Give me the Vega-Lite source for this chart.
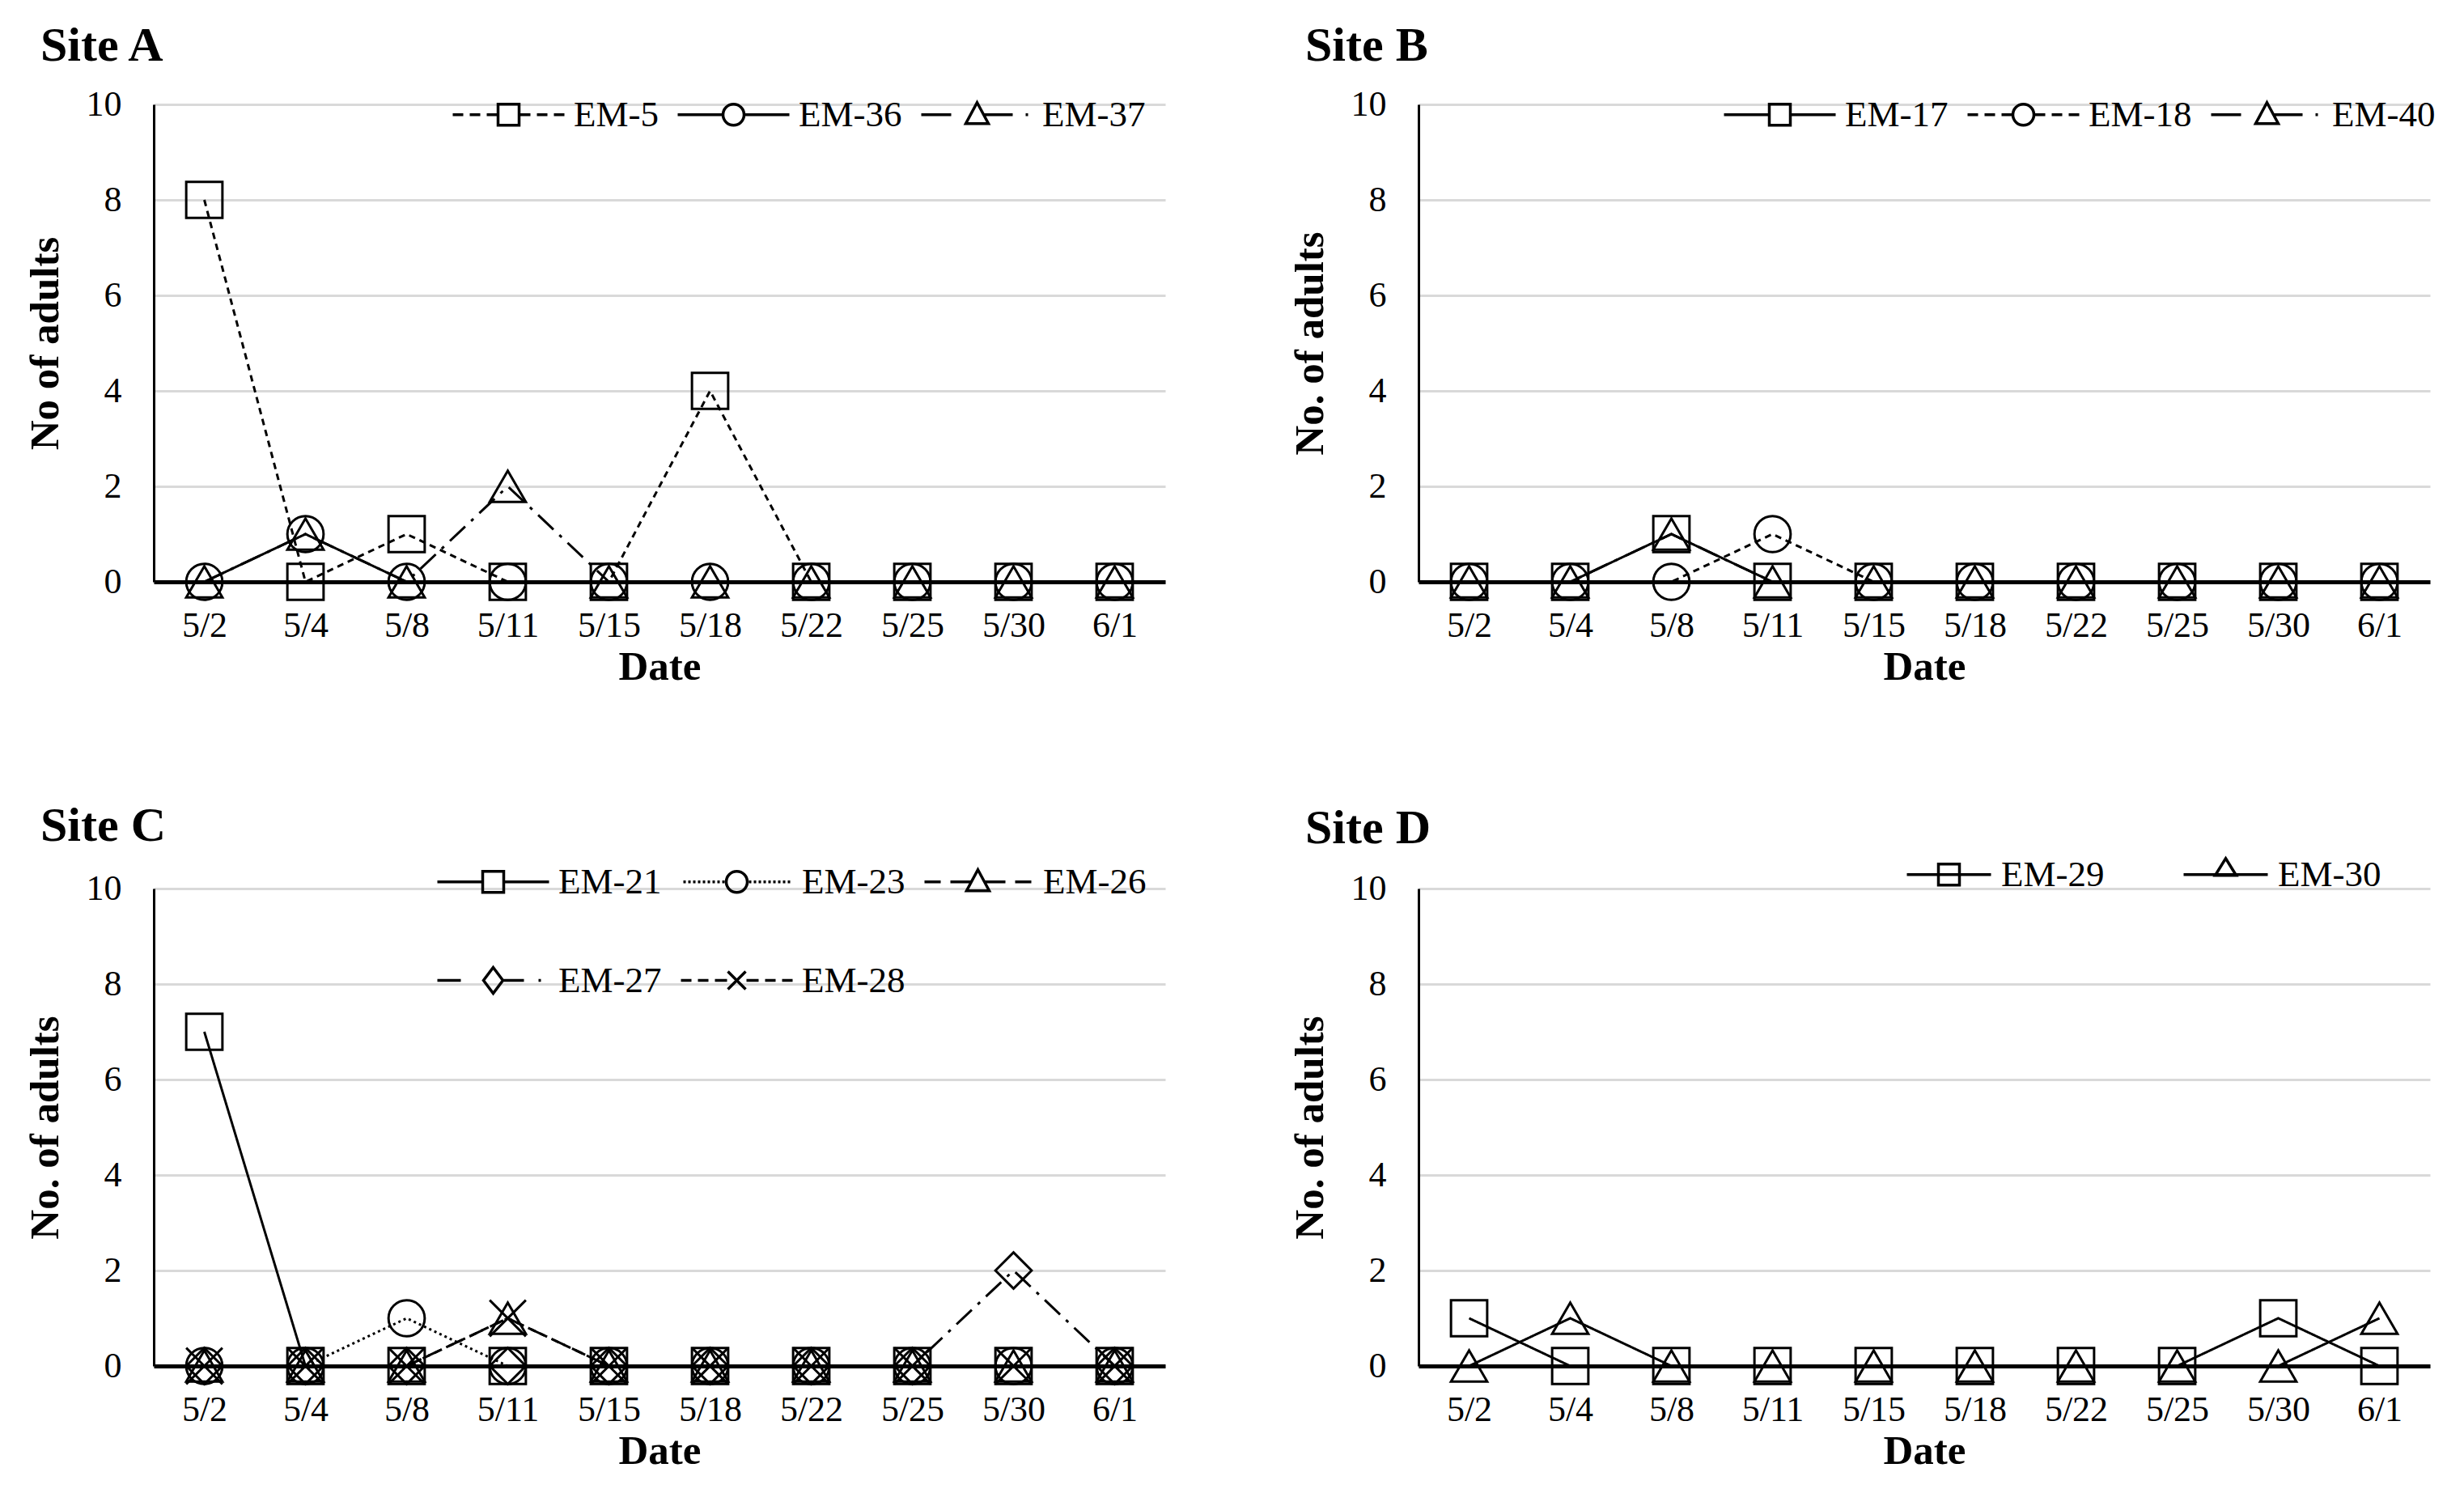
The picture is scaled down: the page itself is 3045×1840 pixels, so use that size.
{
  "$schema": "https://vega.github.io/schema/vega-lite/v6.json",
  "background": "white",
  "padding": {"left": 30, "top": 27, "right": 5, "bottom": 5},
  "datasets": {
    "siteA": [
      {"series": "EM-5", "date": "5/2", "count": 8}, {"series": "EM-5", "date": "5/4", "count": 0}, {"series": "EM-5", "date": "5/8", "count": 1}, {"series": "EM-5", "date": "5/11", "count": 0}, {"series": "EM-5", "date": "5/15", "count": 0}, {"series": "EM-5", "date": "5/18", "count": 4}, {"series": "EM-5", "date": "5/22", "count": 0}, {"series": "EM-5", "date": "5/25", "count": 0}, {"series": "EM-5", "date": "5/30", "count": 0}, {"series": "EM-5", "date": "6/1", "count": 0},
      {"series": "EM-36", "date": "5/2", "count": 0}, {"series": "EM-36", "date": "5/4", "count": 1}, {"series": "EM-36", "date": "5/8", "count": 0}, {"series": "EM-36", "date": "5/11", "count": 0}, {"series": "EM-36", "date": "5/15", "count": 0}, {"series": "EM-36", "date": "5/18", "count": 0}, {"series": "EM-36", "date": "5/22", "count": 0}, {"series": "EM-36", "date": "5/25", "count": 0}, {"series": "EM-36", "date": "5/30", "count": 0}, {"series": "EM-36", "date": "6/1", "count": 0},
      {"series": "EM-37", "date": "5/2", "count": 0}, {"series": "EM-37", "date": "5/4", "count": 1}, {"series": "EM-37", "date": "5/8", "count": 0}, {"series": "EM-37", "date": "5/11", "count": 2}, {"series": "EM-37", "date": "5/15", "count": 0}, {"series": "EM-37", "date": "5/18", "count": 0}, {"series": "EM-37", "date": "5/22", "count": 0}, {"series": "EM-37", "date": "5/25", "count": 0}, {"series": "EM-37", "date": "5/30", "count": 0}, {"series": "EM-37", "date": "6/1", "count": 0}
    ],
    "siteB": [
      {"series": "EM-17", "date": "5/2", "count": 0}, {"series": "EM-17", "date": "5/4", "count": 0}, {"series": "EM-17", "date": "5/8", "count": 1}, {"series": "EM-17", "date": "5/11", "count": 0}, {"series": "EM-17", "date": "5/15", "count": 0}, {"series": "EM-17", "date": "5/18", "count": 0}, {"series": "EM-17", "date": "5/22", "count": 0}, {"series": "EM-17", "date": "5/25", "count": 0}, {"series": "EM-17", "date": "5/30", "count": 0}, {"series": "EM-17", "date": "6/1", "count": 0},
      {"series": "EM-18", "date": "5/2", "count": 0}, {"series": "EM-18", "date": "5/4", "count": 0}, {"series": "EM-18", "date": "5/8", "count": 0}, {"series": "EM-18", "date": "5/11", "count": 1}, {"series": "EM-18", "date": "5/15", "count": 0}, {"series": "EM-18", "date": "5/18", "count": 0}, {"series": "EM-18", "date": "5/22", "count": 0}, {"series": "EM-18", "date": "5/25", "count": 0}, {"series": "EM-18", "date": "5/30", "count": 0}, {"series": "EM-18", "date": "6/1", "count": 0},
      {"series": "EM-40", "date": "5/2", "count": 0}, {"series": "EM-40", "date": "5/4", "count": 0}, {"series": "EM-40", "date": "5/8", "count": 1}, {"series": "EM-40", "date": "5/11", "count": 0}, {"series": "EM-40", "date": "5/15", "count": 0}, {"series": "EM-40", "date": "5/18", "count": 0}, {"series": "EM-40", "date": "5/22", "count": 0}, {"series": "EM-40", "date": "5/25", "count": 0}, {"series": "EM-40", "date": "5/30", "count": 0}, {"series": "EM-40", "date": "6/1", "count": 0}
    ],
    "siteC": [
      {"series": "EM-21", "date": "5/2", "count": 7}, {"series": "EM-21", "date": "5/4", "count": 0}, {"series": "EM-21", "date": "5/8", "count": 0}, {"series": "EM-21", "date": "5/11", "count": 0}, {"series": "EM-21", "date": "5/15", "count": 0}, {"series": "EM-21", "date": "5/18", "count": 0}, {"series": "EM-21", "date": "5/22", "count": 0}, {"series": "EM-21", "date": "5/25", "count": 0}, {"series": "EM-21", "date": "5/30", "count": 0}, {"series": "EM-21", "date": "6/1", "count": 0},
      {"series": "EM-23", "date": "5/2", "count": 0}, {"series": "EM-23", "date": "5/4", "count": 0}, {"series": "EM-23", "date": "5/8", "count": 1}, {"series": "EM-23", "date": "5/11", "count": 0}, {"series": "EM-23", "date": "5/15", "count": 0}, {"series": "EM-23", "date": "5/18", "count": 0}, {"series": "EM-23", "date": "5/22", "count": 0}, {"series": "EM-23", "date": "5/25", "count": 0}, {"series": "EM-23", "date": "5/30", "count": 0}, {"series": "EM-23", "date": "6/1", "count": 0},
      {"series": "EM-26", "date": "5/2", "count": 0}, {"series": "EM-26", "date": "5/4", "count": 0}, {"series": "EM-26", "date": "5/8", "count": 0}, {"series": "EM-26", "date": "5/11", "count": 1}, {"series": "EM-26", "date": "5/15", "count": 0}, {"series": "EM-26", "date": "5/18", "count": 0}, {"series": "EM-26", "date": "5/22", "count": 0}, {"series": "EM-26", "date": "5/25", "count": 0}, {"series": "EM-26", "date": "5/30", "count": 0}, {"series": "EM-26", "date": "6/1", "count": 0},
      {"series": "EM-27", "date": "5/2", "count": 0}, {"series": "EM-27", "date": "5/4", "count": 0}, {"series": "EM-27", "date": "5/8", "count": 0}, {"series": "EM-27", "date": "5/11", "count": 0}, {"series": "EM-27", "date": "5/15", "count": 0}, {"series": "EM-27", "date": "5/18", "count": 0}, {"series": "EM-27", "date": "5/22", "count": 0}, {"series": "EM-27", "date": "5/25", "count": 0}, {"series": "EM-27", "date": "5/30", "count": 2}, {"series": "EM-27", "date": "6/1", "count": 0},
      {"series": "EM-28", "date": "5/2", "count": 0}, {"series": "EM-28", "date": "5/4", "count": 0}, {"series": "EM-28", "date": "5/8", "count": 0}, {"series": "EM-28", "date": "5/11", "count": 1}, {"series": "EM-28", "date": "5/15", "count": 0}, {"series": "EM-28", "date": "5/18", "count": 0}, {"series": "EM-28", "date": "5/22", "count": 0}, {"series": "EM-28", "date": "5/25", "count": 0}, {"series": "EM-28", "date": "5/30", "count": 0}, {"series": "EM-28", "date": "6/1", "count": 0}
    ],
    "siteD": [
      {"series": "EM-29", "date": "5/2", "count": 1}, {"series": "EM-29", "date": "5/4", "count": 0}, {"series": "EM-29", "date": "5/8", "count": 0}, {"series": "EM-29", "date": "5/11", "count": 0}, {"series": "EM-29", "date": "5/15", "count": 0}, {"series": "EM-29", "date": "5/18", "count": 0}, {"series": "EM-29", "date": "5/22", "count": 0}, {"series": "EM-29", "date": "5/25", "count": 0}, {"series": "EM-29", "date": "5/30", "count": 1}, {"series": "EM-29", "date": "6/1", "count": 0},
      {"series": "EM-30", "date": "5/2", "count": 0}, {"series": "EM-30", "date": "5/4", "count": 1}, {"series": "EM-30", "date": "5/8", "count": 0}, {"series": "EM-30", "date": "5/11", "count": 0}, {"series": "EM-30", "date": "5/15", "count": 0}, {"series": "EM-30", "date": "5/18", "count": 0}, {"series": "EM-30", "date": "5/22", "count": 0}, {"series": "EM-30", "date": "5/25", "count": 0}, {"series": "EM-30", "date": "5/30", "count": 0}, {"series": "EM-30", "date": "6/1", "count": 1}
    ]
  },
  "columns": 2,
  "spacing": {"row": 142, "column": 153},
  "resolve": {"scale": {"shape": "independent", "strokeDash": "independent"}},
  "concat": [
    {
      "width": 1250, "height": 590,
      "title": {"text": "Site A", "offset": 19, "dx": 20},
      "data": {"name": "siteA"},
      "encoding": {
        "x": {"field": "date", "type": "ordinal", "sort": ["5/2","5/4","5/8","5/11","5/15","5/18","5/22","5/25","5/30","6/1"], "scale": {"type": "point", "padding": 0.5}, "axis": {"title": "Date"}},
        "y": {"field": "count", "type": "quantitative", "scale": {"domain": [0, 10], "nice": false}, "axis": {"title": "No of adults", "values": [0, 2, 4, 6, 8, 10]}}
      },
      "layer": [
        {"mark": {"type": "line", "color": "black", "strokeWidth": 3},
         "encoding": {"strokeDash": {"field": "series", "type": "nominal", "scale": {"domain": ["EM-5","EM-36","EM-37"], "range": [[8,6],[1,0],[26,10,4,10]]}, "legend": null}, "order": {"value": null}}},
        {"mark": {"type": "point", "filled": false, "color": "black", "strokeWidth": 3, "size": 2000, "opacity": 1},
         "encoding": {"shape": {"field": "series", "type": "nominal", "scale": {"domain": ["EM-5","EM-36","EM-37"], "range": ["square","circle","triangle-up"]}, "legend": null}}},
        {"transform": [{"filter": "false"}],
         "mark": {"type": "point", "filled": false, "color": "black", "strokeWidth": 3, "opacity": 1},
         "encoding": {"shape": {"field": "series", "type": "nominal",
           "scale": {"domain": ["EM-5","EM-36","EM-37"], "range": [
             "M-3.45,0H-2.8M-2.4,0H-1.75M-1.35,0H-0.7M0.7,0H1.35M1.75,0H2.4M2.8,0H3.45M-0.65,-0.65H0.65V0.65H-0.65Z",
             "M-3.45,0H-0.65M0.65,0H3.45M0.65,0A0.65,0.65,0,1,1,-0.65,0A0.65,0.65,0,1,1,0.65,0Z",
             "M-3.45,0H-1.6M0.4,0H2.2M3.0,0H3.15M0,-0.75L0.7,0.55H-0.7Z"]},
           "legend": {"legendX": 367, "legendY": -10, "columns": 3}}}}
      ],
      "resolve": {"scale": {"shape": "independent"}}
    },
    {
      "width": 1250, "height": 590,
      "title": {"text": "Site B", "offset": 19, "dx": 20},
      "data": {"name": "siteB"},
      "encoding": {
        "x": {"field": "date", "type": "ordinal", "sort": ["5/2","5/4","5/8","5/11","5/15","5/18","5/22","5/25","5/30","6/1"], "scale": {"type": "point", "padding": 0.5}, "axis": {"title": "Date"}},
        "y": {"field": "count", "type": "quantitative", "scale": {"domain": [0, 10], "nice": false}, "axis": {"title": "No. of adults", "values": [0, 2, 4, 6, 8, 10]}}
      },
      "layer": [
        {"mark": {"type": "line", "color": "black", "strokeWidth": 3},
         "encoding": {"strokeDash": {"field": "series", "type": "nominal", "scale": {"domain": ["EM-17","EM-18","EM-40"], "range": [[1,0],[8,6],[26,10,4,10]]}, "legend": null}, "order": {"value": null}}},
        {"mark": {"type": "point", "filled": false, "color": "black", "strokeWidth": 3, "size": 2000, "opacity": 1},
         "encoding": {"shape": {"field": "series", "type": "nominal", "scale": {"domain": ["EM-17","EM-18","EM-40"], "range": ["square","circle","triangle-up"]}, "legend": null}}},
        {"transform": [{"filter": "false"}],
         "mark": {"type": "point", "filled": false, "color": "black", "strokeWidth": 3, "opacity": 1},
         "encoding": {"shape": {"field": "series", "type": "nominal",
           "scale": {"domain": ["EM-17","EM-18","EM-40"], "range": [
             "M-3.45,0H-0.65M0.65,0H3.45M-0.65,-0.65H0.65V0.65H-0.65Z",
             "M-3.45,0H-2.8M-2.4,0H-1.75M-1.35,0H-0.7M0.7,0H1.35M1.75,0H2.4M2.8,0H3.45M0.65,0A0.65,0.65,0,1,1,-0.65,0A0.65,0.65,0,1,1,0.65,0Z",
             "M-3.45,0H-1.6M0.4,0H2.2M3.0,0H3.15M0,-0.75L0.7,0.55H-0.7Z"]},
           "legend": {"legendX": 375, "legendY": -10, "columns": 3}}}}
      ],
      "resolve": {"scale": {"shape": "independent"}}
    },
    {
      "width": 1250, "height": 590,
      "title": {"text": "Site C", "offset": 15, "dx": 20},
      "data": {"name": "siteC"},
      "encoding": {
        "x": {"field": "date", "type": "ordinal", "sort": ["5/2","5/4","5/8","5/11","5/15","5/18","5/22","5/25","5/30","6/1"], "scale": {"type": "point", "padding": 0.5}, "axis": {"title": "Date"}},
        "y": {"field": "count", "type": "quantitative", "scale": {"domain": [0, 10], "nice": false}, "axis": {"title": "No. of adults", "values": [0, 2, 4, 6, 8, 10]}}
      },
      "layer": [
        {"mark": {"type": "line", "color": "black", "strokeWidth": 3},
         "encoding": {"strokeDash": {"field": "series", "type": "nominal", "scale": {"domain": ["EM-21","EM-23","EM-26","EM-27","EM-28"], "range": [[1,0],[3,4],[18,10],[26,10,4,10],[10,6]]}, "legend": null}, "order": {"value": null}}},
        {"mark": {"type": "point", "filled": false, "color": "black", "strokeWidth": 3, "size": 2000, "opacity": 1},
         "encoding": {"shape": {"field": "series", "type": "nominal", "scale": {"domain": ["EM-21","EM-23","EM-26","EM-27","EM-28"], "range": ["square","circle","triangle-up","diamond","M-1,-1L1,1M-1,1L1,-1"]}, "legend": null}}},
        {"transform": [{"filter": "false"}],
         "mark": {"type": "point", "filled": false, "color": "black", "strokeWidth": 3, "opacity": 1},
         "encoding": {"shape": {"field": "series", "type": "nominal",
           "scale": {"domain": ["EM-21","EM-23","EM-26","EM-27","EM-28"], "range": [
             "M-3.45,0H-0.65M0.65,0H3.45M-0.65,-0.65H0.65V0.65H-0.65Z",
             "M-3.3,0H-3.15M-3.0,0H-2.85M-2.7,0H-2.55M-2.4,0H-2.25M-2.1,0H-1.95M-1.8,0H-1.65M-1.5,0H-1.35M-1.2,0H-1.05M-0.9,0H-0.75M0.75,0H0.9M1.05,0H1.2M1.35,0H1.5M1.65,0H1.8M1.95,0H2.1M2.25,0H2.4M2.55,0H2.7M2.85,0H3.0M3.15,0H3.3M0.65,0A0.65,0.65,0,1,1,-0.65,0A0.65,0.65,0,1,1,0.65,0Z",
             "M-3.3,0H-2.3M-1.7,0H-0.4M0.4,0H1.7M2.3,0H3.3M0,-0.75L0.7,0.55H-0.7Z",
             "M-3.45,0H-2.0M0.6,0H1.9M2.8,0H2.95M0,-0.8L0.6,0L0,0.8L-0.6,0Z",
             "M-3.45,0H-2.8M-2.4,0H-1.75M-1.35,0H-0.6M0.6,0H1.35M1.75,0H2.4M2.8,0H3.45M-0.55,-0.55L0.55,0.55M-0.55,0.55L0.55,-0.55"]},
           "legend": {"legendX": 348, "legendY": -31, "columns": 3}}}}
      ],
      "resolve": {"scale": {"shape": "independent"}}
    },
    {
      "width": 1250, "height": 590,
      "title": {"text": "Site D", "offset": 3, "dx": 20},
      "data": {"name": "siteD"},
      "encoding": {
        "x": {"field": "date", "type": "ordinal", "sort": ["5/2","5/4","5/8","5/11","5/15","5/18","5/22","5/25","5/30","6/1"], "scale": {"type": "point", "padding": 0.5}, "axis": {"title": "Date"}},
        "y": {"field": "count", "type": "quantitative", "scale": {"domain": [0, 10], "nice": false}, "axis": {"title": "No. of adults", "values": [0, 2, 4, 6, 8, 10]}}
      },
      "layer": [
        {"mark": {"type": "line", "color": "black", "strokeWidth": 3},
         "encoding": {"strokeDash": {"field": "series", "type": "nominal", "scale": {"domain": ["EM-29","EM-30"], "range": [[1,0],[1,0]]}, "legend": null}, "order": {"value": null}}},
        {"mark": {"type": "point", "filled": false, "color": "black", "strokeWidth": 3, "size": 2000, "opacity": 1},
         "encoding": {"shape": {"field": "series", "type": "nominal", "scale": {"domain": ["EM-29","EM-30"], "range": ["square","triangle-up"]}, "legend": null}}},
        {"transform": [{"filter": "false"}],
         "mark": {"type": "point", "filled": false, "color": "black", "strokeWidth": 3, "opacity": 1},
         "encoding": {"shape": {"field": "series", "type": "nominal",
           "scale": {"domain": ["EM-29","EM-30"], "range": [
             "M-2.6,0H2.6M-0.65,-0.65H0.65V0.65H-0.65Z",
             "M-2.6,0H2.6M0,-1.0L0.65,0.05H-0.65Z"]},
           "legend": {"legendX": 601, "legendY": -40, "columns": 2, "symbolOffset": 32, "labelOffset": 42, "columnPadding": 90}}}}
      ],
      "resolve": {"scale": {"shape": "independent"}}
    }
  ],
  "config": {
    "font": "Liberation Serif",
    "view": {"stroke": null},
    "title": {"font": "Liberation Serif", "fontSize": 60, "fontWeight": "bold", "anchor": "start", "frame": "bounds", "color": "#000"},
    "axis": {"labelFont": "Liberation Serif", "labelFontSize": 44, "labelColor": "#000", "titleFont": "Liberation Serif", "titleFontSize": 51, "titleFontWeight": "bold", "titleColor": "#000", "ticks": false, "domainColor": "#000"},
    "axisX": {"domainWidth": 5, "labelPadding": 32, "titlePadding": 4, "labelAngle": 0, "grid": false},
    "axisY": {"domainWidth": 3, "grid": true, "gridColor": "#d9d9d9", "gridWidth": 3, "labelPadding": 40, "titlePadding": 24},
    "legend": {"orient": "none", "direction": "horizontal", "title": null, "padding": 0, "labelFont": "Liberation Serif", "labelFontSize": 45, "labelColor": "#000", "labelLimit": 300, "symbolStrokeColor": "#000", "symbolStrokeWidth": 3.5, "symbolFillColor": "transparent", "symbolSize": 1600, "symbolOffset": 49, "labelOffset": 58, "columnPadding": 16, "rowPadding": 75}
  }
}
